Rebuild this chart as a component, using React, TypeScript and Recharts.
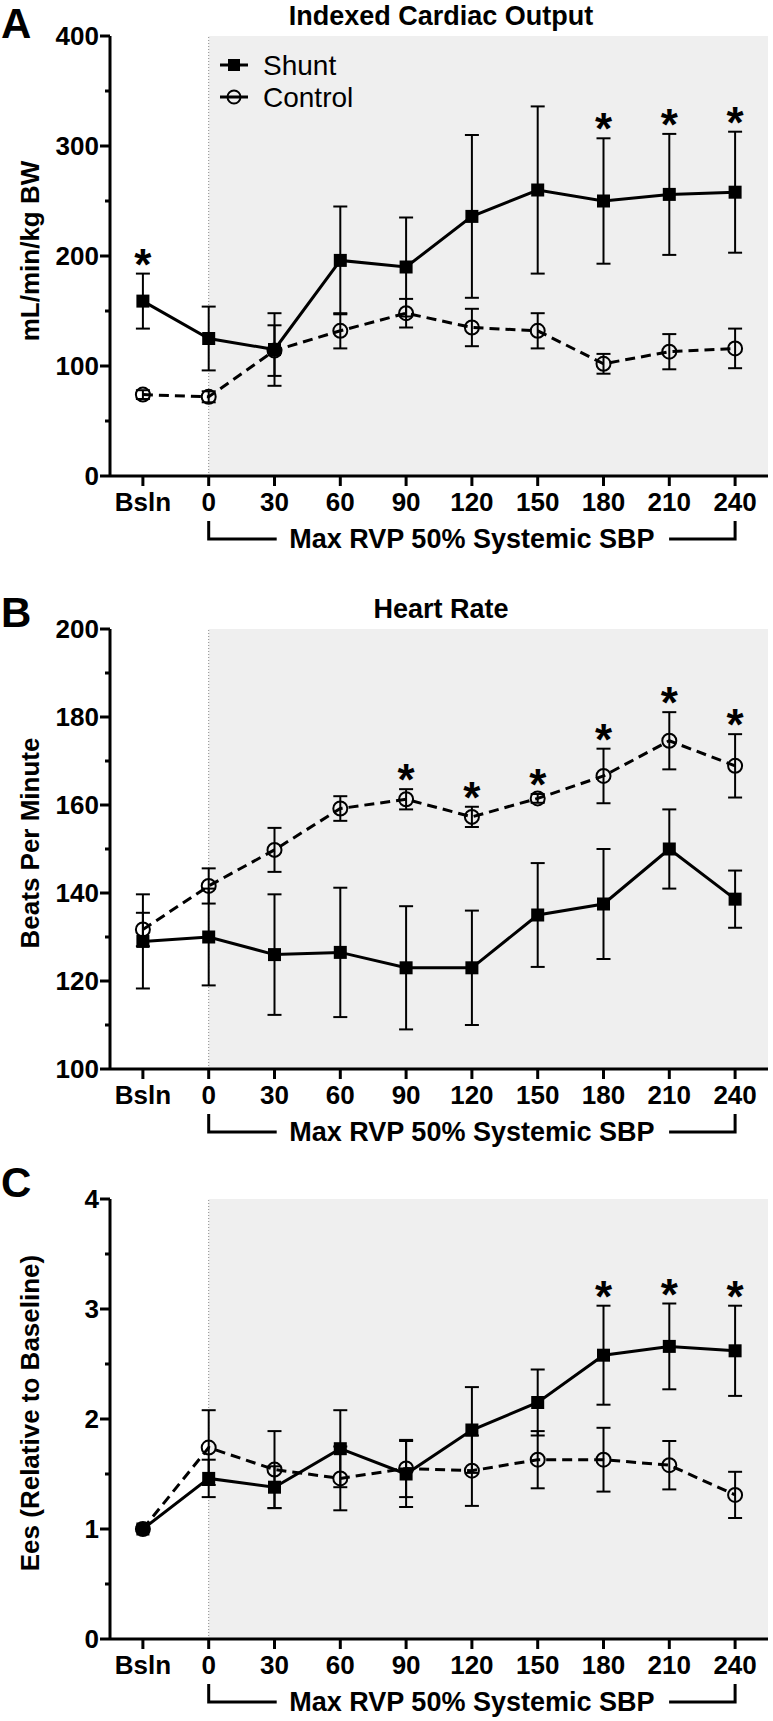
import React from 'react';
import { ComposedChart, Line, XAxis, YAxis, ErrorBar, ReferenceArea, ReferenceLine } from 'recharts';

const categories = ['Bsln', '0', '30', '60', '90', '120', '150', '180', '210', '240'];

// A - indexed cardiac output (mL/min/kg BW)
const coShunt = [159, 125, 115, 196, 190, 236, 260, 250, 256, 258];
const coShuntErr = [25, 29, 33, 49, 45, 74, 76, 57, 55, 55];
const coControl = [74, 72, 114, 132, 148, 135, 132, 102, 113, 116];
const coControlErr = [4, 5, 23, 16, 13, 17, 16, 9, 16, 18];
const coSig = [true, false, false, false, false, false, false, true, true, true];

// B - heart rate (beats per minute)
const hrShunt = [129, 130, 126, 126.5, 123, 123, 135, 137.5, 150, 138.6];
const hrShuntErr = [10.7, 11, 13.7, 14.7, 14, 13, 11.8, 12.5, 9, 6.5];
const hrControl = [131.7, 141.6, 149.8, 159.2, 161.3, 157.3, 161.5, 166.6, 174.6, 168.9];
const hrControlErr = [3.8, 4, 5, 2.8, 2.3, 2.3, 1, 6.2, 6.5, 7.2];
const hrSig = [false, false, false, false, true, true, true, true, true, true];

// C - Ees relative to baseline
const eesShunt = [1.0, 1.46, 1.38, 1.73, 1.5, 1.9, 2.15, 2.58, 2.66, 2.62];
const eesShuntErr = [0.02, 0.17, 0.19, 0.35, 0.3, 0.39, 0.3, 0.45, 0.39, 0.41];
const eesControl = [1.0, 1.74, 1.54, 1.46, 1.55, 1.53, 1.63, 1.63, 1.58, 1.31];
const eesControlErr = [0.02, 0.34, 0.35, 0.29, 0.26, 0.32, 0.26, 0.29, 0.22, 0.21];
const eesSig = [false, false, false, false, false, false, false, true, true, true];

const FONT = '"Liberation Sans", Arial, Helvetica, sans-serif';
const W = 773;
const H = 1721;
const PLOT_L = 110;
const PLOT_R = 768;
const X_AXIS_H = 40;
const bandW = (PLOT_R - PLOT_L) / categories.length;
const xPos = (i: number) => PLOT_L + bandW * (i + 0.5);

const panels = [
  {
    id: 'A', title: 'Indexed Cardiac Output', yLabel: 'mL/min/kg BW',
    top: 0, height: 580, plotTop: 36, plotBottom: 476,
    domain: [0, 400], majors: [0, 100, 200, 300, 400], minors: [50, 150, 250, 350],
    shunt: coShunt, shuntErr: coShuntErr, control: coControl, controlErr: coControlErr,
    sig: coSig, sigOn: 'shunt', letterY: 38, titleY: 25,
  },
  {
    id: 'B', title: 'Heart Rate', yLabel: 'Beats Per Minute',
    top: 580, height: 560, plotTop: 629, plotBottom: 1069,
    domain: [100, 200], majors: [100, 120, 140, 160, 180, 200], minors: [110, 130, 150, 170, 190],
    shunt: hrShunt, shuntErr: hrShuntErr, control: hrControl, controlErr: hrControlErr,
    sig: hrSig, sigOn: 'control', letterY: 627, titleY: 618,
  },
  {
    id: 'C', title: '', yLabel: 'Ees (Relative to Baseline)',
    top: 1140, height: 581, plotTop: 1199, plotBottom: 1639,
    domain: [0, 4], majors: [0, 1, 2, 3, 4], minors: [0.5, 1.5, 2.5, 3.5],
    shunt: eesShunt, shuntErr: eesShuntErr, control: eesControl, controlErr: eesControlErr,
    sig: eesSig, sigOn: 'shunt', letterY: 1197, titleY: 0,
  },
];

function buildRows(p: any) {
  return categories.map((c, i) => {
    const top = p.sigOn === 'shunt' ? p.shunt[i] + p.shuntErr[i] : p.control[i] + p.controlErr[i];
    return {
      i,
      label: c,
      shunt: p.shunt[i],
      shuntErr: p.shuntErr[i],
      control: p.control[i],
      controlErr: p.controlErr[i],
      star: p.sig[i] ? top : null,
    };
  });
}

const squareDot = (props: any) => {
  const { cx, cy, index } = props;
  if (cx == null || cy == null) return <g key={`sq-${index}`} />;
  return <rect key={`sq-${index}`} x={cx - 6.5} y={cy - 6.5} width={13} height={13} fill="#000" />;
};

const circleDot = (props: any) => {
  const { cx, cy, index } = props;
  if (cx == null || cy == null) return <g key={`ci-${index}`} />;
  return <circle key={`ci-${index}`} cx={cx} cy={cy} r={7} fill="none" stroke="#000" strokeWidth={2} />;
};

// significance asterisk, sitting just above the upper error cap
const starDot = (props: any) => {
  const { cx, cy, index, value } = props;
  if (value == null || cy == null || isNaN(cy)) return <g key={`st-${index}`} />;
  return (
    <text key={`st-${index}`} x={cx} y={cy + 6} textAnchor="middle" fontFamily={FONT} fontSize={44} fontWeight="bold" fill="#000">*</text>
  );
};

function Panel({ p }: { p: any }) {
  const rows = buildRows(p);
  const axisY = p.plotBottom - p.top;
  const ticks = [...p.majors, ...p.minors].sort((a, b) => a - b);

  const yTick = (props: any) => {
    const { y, payload } = props;
    const major = p.majors.includes(payload.value);
    return (
      <g>
        <line x1={PLOT_L - (major ? 10 : 5)} x2={PLOT_L} y1={y} y2={y} stroke="#000" strokeWidth={3} />
        {major && (
          <text x={PLOT_L - 11} y={y} dy="0.36em" textAnchor="end" fontFamily={FONT} fontSize={26} fontWeight="bold" fill="#000">
            {payload.value}
          </text>
        )}
      </g>
    );
  };

  const xTick = (props: any) => {
    const { x, payload } = props;
    return (
      <g>
        <line x1={x} x2={x} y1={axisY} y2={axisY + 10} stroke="#000" strokeWidth={3} />
        <text x={x} y={axisY + 35} textAnchor="middle" fontFamily={FONT} fontSize={26} fontWeight="bold" fill="#000">
          {categories[payload.value]}
        </text>
      </g>
    );
  };

  return (
    <div style={{ position: 'absolute', left: 0, top: p.top }}>
      <ComposedChart
        width={W}
        height={p.height}
        data={rows}
        margin={{ top: p.plotTop - p.top, right: W - PLOT_R, bottom: p.top + p.height - p.plotBottom - X_AXIS_H, left: 0 }}
      >
        <XAxis
          dataKey="i"
          type="number"
          domain={[-0.5, categories.length - 0.5]}
          ticks={categories.map((_, i) => i)}
          interval={0}
          height={X_AXIS_H}
          axisLine={{ stroke: '#000', strokeWidth: 3 }}
          tickLine={false}
          tick={xTick}
          allowDataOverflow
        />
        <YAxis
          type="number"
          domain={p.domain}
          ticks={ticks}
          interval={0}
          width={PLOT_L}
          axisLine={{ stroke: '#000', strokeWidth: 3 }}
          tickLine={false}
          tick={yTick}
          allowDataOverflow
        />
        <ReferenceArea x1={1} x2={categories.length - 0.5} y1={p.domain[0]} y2={p.domain[1]} fill="#efefef" fillOpacity={1} stroke="none" />
        <ReferenceLine x={1} stroke="#8a8a8a" strokeDasharray="1 2" strokeWidth={1} />
        <Line
          dataKey="control"
          type="linear"
          stroke="#000"
          strokeWidth={3}
          strokeDasharray="10 6"
          dot={circleDot}
          activeDot={false}
          isAnimationActive={false}
        >
          <ErrorBar dataKey="controlErr" direction="y" width={7} stroke="#000" strokeWidth={2} />
        </Line>
        <Line
          dataKey="shunt"
          type="linear"
          stroke="#000"
          strokeWidth={3}
          dot={squareDot}
          activeDot={false}
          isAnimationActive={false}
        >
          <ErrorBar dataKey="shuntErr" direction="y" width={7} stroke="#000" strokeWidth={2} />
        </Line>
        <Line dataKey="star" stroke="none" dot={starDot} activeDot={false} isAnimationActive={false} />
      </ComposedChart>
    </div>
  );
}

function Overlay() {
  const x0 = xPos(1);
  const x1 = xPos(categories.length - 1);
  const mid = (x0 + x1) / 2;
  const yLabelY = [251, 843, 1413];
  return (
    <svg width={W} height={H} style={{ position: 'absolute', left: 0, top: 0, pointerEvents: 'none' }}>
      {panels.map((p, k) => {
        const ay = p.plotBottom;
        return (
          <g key={p.id}>
            <text x={1} y={p.letterY} fontFamily={FONT} fontSize={42} fontWeight="bold">{p.id}</text>
            {p.title && (
              <text x={441} y={p.titleY} textAnchor="middle" fontFamily={FONT} fontSize={27} fontWeight="bold">{p.title}</text>
            )}
            <text
              transform={`translate(30, ${yLabelY[k]}) rotate(-90)`}
              textAnchor="middle"
              dy="0.36em"
              fontFamily={FONT}
              fontSize={26}
              fontWeight="bold"
            >
              {p.yLabel}
            </text>
            <path
              d={`M${x0},${ay + 45} V${ay + 63} H${x0 + 68} M${x1 - 66},${ay + 63} H${x1} V${ay + 45}`}
              fill="none"
              stroke="#000"
              strokeWidth={3}
            />
            <text x={mid} y={ay + 72} textAnchor="middle" fontFamily={FONT} fontSize={27} fontWeight="bold">
              Max RVP 50% Systemic SBP
            </text>
          </g>
        );
      })}
      {/* legend */}
      <g>
        <line x1={220} x2={248} y1={65} y2={65} stroke="#000" strokeWidth={3} />
        <rect x={228} y={59} width={12} height={12} fill="#000" />
        <text x={263} y={75} fontFamily={FONT} fontSize={28}>Shunt</text>
        <line x1={220} x2={248} y1={97} y2={97} stroke="#000" strokeWidth={3} />
        <circle cx={234} cy={97} r={6.5} fill="none" stroke="#000" strokeWidth={2} />
        <text x={263} y={107} fontFamily={FONT} fontSize={28}>Control</text>
      </g>
    </svg>
  );
}

export default function App() {
  return (
    <div style={{ position: 'absolute', left: 0, top: 0, width: W, height: H, background: '#fff' }}>
      {panels.map((p) => (
        <Panel key={p.id} p={p} />
      ))}
      <Overlay />
    </div>
  );
}
